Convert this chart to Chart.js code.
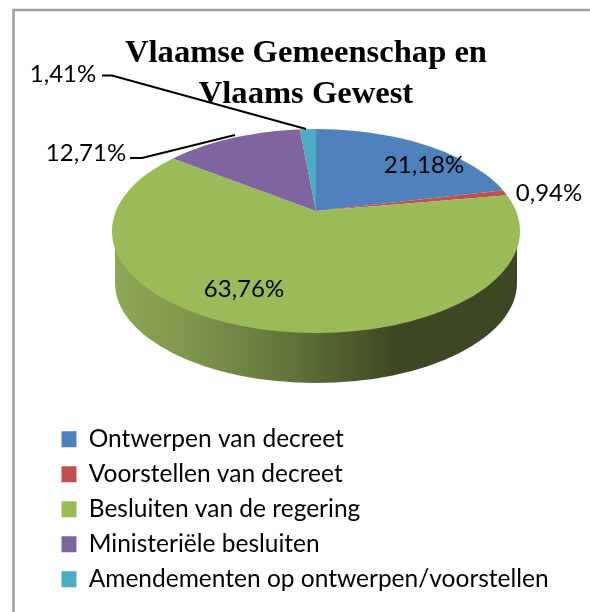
<!DOCTYPE html>
<html><head><meta charset="utf-8">
<script src="https://cdn.jsdelivr.net/npm/chart.js@4"></script>
<style>html,body{margin:0;padding:0;background:#fff}#w{position:relative;width:590px;height:612px}</style>
</head><body><div id="w"><canvas id="c" width="590" height="612"></canvas></div>
<script>
const categories = ["Ontwerpen van decreet","Voorstellen van decreet","Besluiten van de regering","Ministeriële besluiten","Amendementen op ontwerpen/voorstellen"];
const values = [21.18,0.94,63.76,12.71,1.41];
const colors = ["#4f81bd","#c0504d","#9bbb59","#8064a2","#4bacc6"];
const titleLines = ["Vlaamse Gemeenschap en","Vlaams Gewest"];
const fmt = v => v.toFixed(2).replace('.',',')+'%';

// layout of the tilted pie
const apex = {x:316,y:211}, face = {cx:316,cy:231,rx:204,ry:102}, tilt = .45, stretch = 1.4;
const wall = {cx:316,cy:283,rx:201,ry:100,yTop:247};
const labelPos = [[424,165],[549,193],[244,289],[86,153],[63,74]];
const leaders = {3:[[130,158],[142,158],[235,135]],4:[[102,75.5],[112,75.5],[306,129]]};

const tiltPie = {
  id:'tiltPie',
  beforeDatasetsDraw(chart){
    const c = chart.ctx, arc = chart.getDatasetMeta(0).data[0];
    // frame
    c.save();c.strokeStyle='#a0a0a0';c.lineWidth=2.5;
    c.beginPath();c.moveTo(13.5,612);c.lineTo(13.5,10);c.lineTo(590,10);c.stroke();c.restore();
    // side wall
    c.save();
    const g = c.createLinearGradient(wall.cx-wall.rx,0,wall.cx+wall.rx,0);
    g.addColorStop(0,'#8ea756');g.addColorStop(.2,'#7e944b');g.addColorStop(.45,'#5f7238');g.addColorStop(.7,'#3e4723');g.addColorStop(1,'#3e4723');
    c.fillStyle=g;c.beginPath();
    c.ellipse(wall.cx,wall.cy,wall.rx,wall.ry,0,0,Math.PI);
    c.lineTo(wall.cx-wall.rx,wall.yTop);c.lineTo(wall.cx+wall.rx,wall.yTop);c.closePath();c.fill();
    c.restore();
    // top face: pie arcs through a clip of the ellipse
    c.save();
    c.beginPath();c.ellipse(face.cx,face.cy,face.rx,face.ry,0,0,Math.PI*2);c.clip();
    const s = stretch*300/arc.outerRadius;
    c.translate(apex.x,apex.y);c.scale(s,s*tilt);c.translate(-arc.x,-arc.y);
  },
  afterDatasetsDraw(chart){
    const c = chart.ctx;
    c.restore();
    c.save();
    c.strokeStyle='#000';c.lineWidth=2;
    Object.values(leaders).forEach(p=>{c.beginPath();p.forEach((q,i)=>i?c.lineTo(q[0],q[1]):c.moveTo(q[0],q[1]));c.stroke();});
    c.fillStyle='#000';c.font='24px Lato';c.textAlign='center';c.textBaseline='middle';
    values.forEach((v,i)=>c.fillText(fmt(v),labelPos[i][0],labelPos[i][1]));
    c.restore();
  }
};

new Chart(document.getElementById('c'),{
  type:'pie',
  data:{labels:categories,datasets:[{data:values,backgroundColor:colors,borderWidth:0}]},
  plugins:[tiltPie],
  options:{
    responsive:false,animation:false,
    layout:{padding:{left:51,right:29,top:0,bottom:10}},
    plugins:{
      tooltip:{enabled:false},
      title:{display:true,text:titleLines,color:'#000',font:{family:'Liberation Serif',size:32.6,weight:'bold',lineHeight:1.23},padding:{top:34,bottom:0}},
      legend:{position:'left',align:'end',maxWidth:505,
        labels:{boxWidth:15,boxHeight:16,padding:10.5,color:'#000',font:{family:'Lato',size:24.5,lineHeight:1}}}
    }
  }
});
</script></body></html>
